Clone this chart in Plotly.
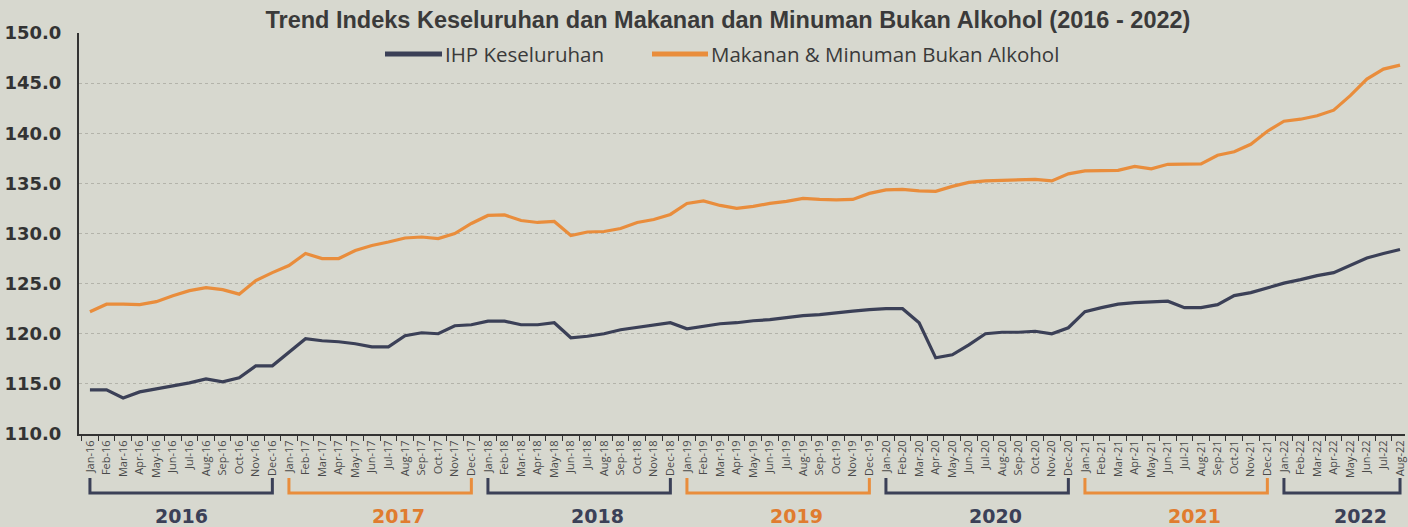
import plotly.graph_objects as go

# ---------------- data ----------------
MONTHS = ["Jan", "Feb", "Mar", "Apr", "May", "Jun", "Jul", "Aug", "Sep", "Oct", "Nov", "Dec"]
YEARS = ["16", "17", "18", "19", "20", "21", "22"]
YEAR_LABELS = ["2016", "2017", "2018", "2019", "2020", "2021", "2022"]
MONTHS_IN_YEAR = [12, 12, 12, 12, 12, 12, 8]

month_labels = [f"{m}-{y}" for y, n in zip(YEARS, MONTHS_IN_YEAR) for m in MONTHS[:n]]

ihp_keseluruhan = [
    114.4, 114.4, 113.6, 114.2, 114.5, 114.8, 115.1, 115.5, 115.2, 115.6, 116.8, 116.8,   # 2016
    118.2, 119.5, 119.3, 119.2, 119.0, 118.7, 118.7, 119.8, 120.1, 120.0, 120.8, 120.9,   # 2017
    121.25, 121.25, 120.9, 120.9, 121.1, 119.6, 119.75, 120.0, 120.4, 120.65, 120.9, 121.1,  # 2018
    120.5, 120.75, 121.0, 121.1, 121.3, 121.4, 121.6, 121.8, 121.9, 122.1, 122.25, 122.4,  # 2019
    122.5, 122.5, 121.1, 117.6, 117.9, 118.9, 120.0, 120.15, 120.15, 120.25, 120.0, 120.6,  # 2020
    122.2, 122.6, 122.95, 123.1, 123.2, 123.25, 122.6, 122.6, 122.9, 123.8, 124.1, 124.6,  # 2021
    125.05, 125.4, 125.8, 126.1, 126.8, 127.55, 128.0, 128.4,                              # 2022
]

makanan_minuman = [
    122.2, 122.95, 122.95, 122.9, 123.2, 123.8, 124.3, 124.6, 124.4, 123.95, 125.3, 126.1,  # 2016
    126.8, 128.0, 127.5, 127.5, 128.3, 128.8, 129.15, 129.55, 129.65, 129.5, 130.0, 131.0,  # 2017
    131.8, 131.85, 131.3, 131.1, 131.2, 129.8, 130.15, 130.2, 130.5, 131.1, 131.4, 131.9,  # 2018
    133.0, 133.25, 132.8, 132.5, 132.7, 133.0, 133.2, 133.5, 133.4, 133.35, 133.4, 134.0,  # 2019
    134.35, 134.4, 134.25, 134.2, 134.7, 135.1, 135.25, 135.3, 135.3, 135.4, 135.25, 135.95,  # 2020
    136.25, 136.3, 136.3, 136.7, 136.45, 136.9, 136.95, 136.95, 137.8, 138.15, 138.9, 140.2,  # 2021
    141.2, 141.4, 141.75, 142.3, 143.75, 145.4, 146.4, 146.8,                                 # 2022
]

SERIES_NAMES = ["IHP Keseluruhan", "Makanan & Minuman Bukan Alkohol"]
TITLE = "Trend Indeks Keseluruhan dan Makanan dan Minuman Bukan Alkohol (2016 - 2022)"
Y_TICKS = [110, 115, 120, 125, 130, 135, 140, 145, 150]

# ---------------- styles ----------------
NAVY = "#3b4057"
ORANGE = "#e98d3c"
BG = "#d7d8cf"
W, H = 1408, 527
L, R, T, B = 79, 3, 33, 93
PLOT_H = H - T - B
PLOT_W = W - L - R


def py(pixel_y):
    """pixel row -> paper y"""
    return (H - B - pixel_y) / PLOT_H


def px(pixel_x):
    return (pixel_x - L) / PLOT_W


fig = go.Figure()
fig.add_trace(go.Scatter(x=month_labels, y=ihp_keseluruhan, mode="lines", name=SERIES_NAMES[0],
                         line=dict(color=NAVY, width=3.2), showlegend=False))
fig.add_trace(go.Scatter(x=month_labels, y=makanan_minuman, mode="lines", name=SERIES_NAMES[1],
                         line=dict(color=ORANGE, width=3.2), showlegend=False))

shapes = []
annotations = []

# year brackets and labels
start = 0
for k, (lab, n) in enumerate(zip(YEAR_LABELS, MONTHS_IN_YEAR)):
    end = start + n - 1
    col = NAVY if k % 2 == 0 else ORANGE
    y_top, y_bot = py(478), py(493)
    shapes.append(dict(type="path", xref="x", yref="paper",
                       path=f"M {start},{y_top} L {start},{y_bot} L {end},{y_bot} L {end},{y_top}",
                       line=dict(color=col, width=3)))
    mid = (start + end) / 2 + (0 if k == 0 else 1.1)
    annotations.append(dict(x=mid, y=py(516), xref="x", yref="paper", text=f"<b>{lab}</b>",
                            showarrow=False, xanchor="center", yanchor="middle",
                            font=dict(family="DejaVu Sans", size=19,
                                      color=NAVY if k % 2 == 0 else "#e07c2f")))
    start = end + 1

# manual legend
leg_y = py(54)
for (x0, x1), col, name in zip([(385, 442), (652, 708)], [NAVY, ORANGE], SERIES_NAMES):
    shapes.append(dict(type="line", xref="paper", yref="paper", x0=px(x0), x1=px(x1), y0=leg_y, y1=leg_y,
                       line=dict(color=col, width=5)))
    annotations.append(dict(x=px(x1 + 1), y=leg_y, xref="paper", yref="paper", text=name, showarrow=False,
                            xanchor="left", yanchor="middle",
                            font=dict(family="Open Sans", size=20.5, color="#3a3a3a")))

fig.update_layout(
    width=W, height=H,
    margin=dict(l=L, r=R, t=T, b=B),
    paper_bgcolor=BG, plot_bgcolor=BG,
    title=dict(text=f"<b>{TITLE}</b>", x=0.517, xref="container", xanchor="center",
               y=1 - 20 / H, yref="container", yanchor="middle",
               font=dict(family="Liberation Sans", size=23.5, color="#3a3a3a")),
    shapes=shapes, annotations=annotations,
    showlegend=False,
)

fig.update_xaxes(
    type="category", range=[-0.66, 79.3], dtick=1, tickangle=-90,
    tickfont=dict(family="Open Sans", size=11, color="#4a4a4a"),
    showline=True, linecolor="#333333", linewidth=2,
    ticks="outside", ticklen=5, tickcolor="#333333", tickwidth=1, tickson="boundaries",
    showgrid=False, zeroline=False, automargin=False, fixedrange=True,
)
fig.update_yaxes(
    range=[110, 150], tickvals=Y_TICKS, ticktext=[f"{v:.1f}" for v in Y_TICKS],
    tickfont=dict(family="DejaVu Sans", size=18, color="#333333", weight="bold"),
    ticks="", ticklabelstandoff=12,
    showline=True, linecolor="#333333", linewidth=2,
    showgrid=True, gridcolor="#b3b3aa", griddash="dot", gridwidth=1,
    zeroline=False, automargin=False, fixedrange=True,
)

fig.write_html(
    "out.html",
    config={"displayModeBar": False},
    post_script="document.body.style.margin='0';document.body.style.overflow='hidden';"
                "document.documentElement.style.background='" + BG + "';",
)
